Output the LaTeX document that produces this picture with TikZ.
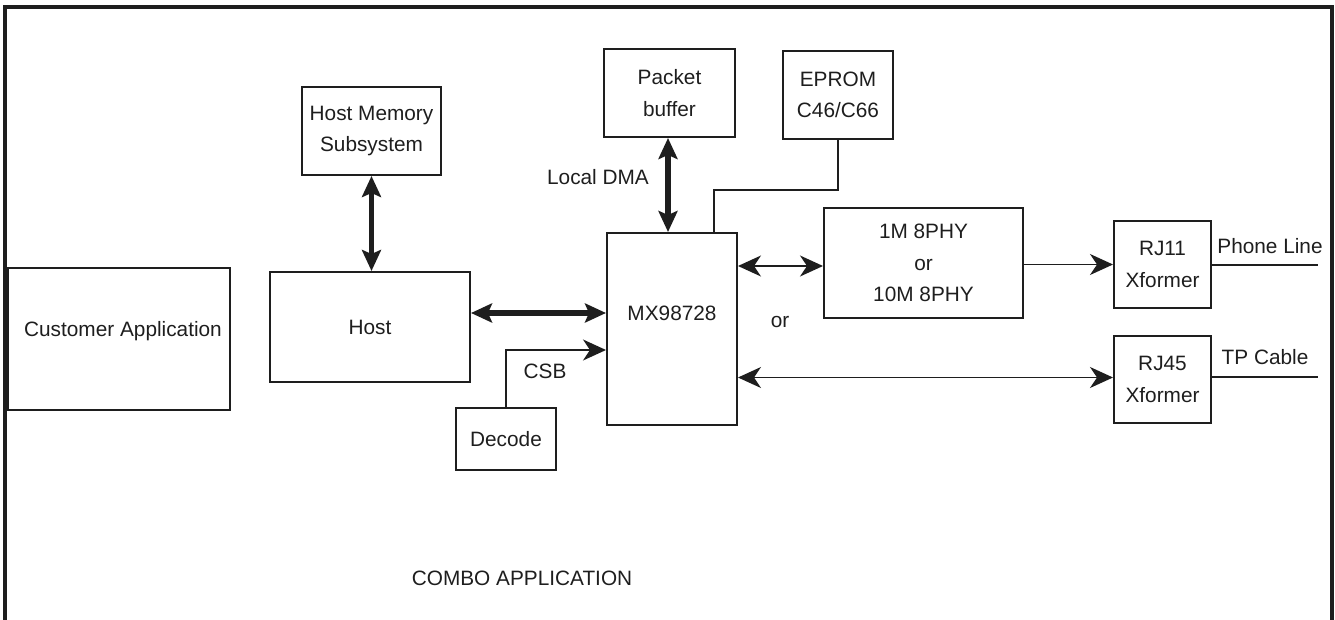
\documentclass[tikz,border=0pt]{standalone}
\usepackage{fontspec}
\setmainfont{Liberation Sans}
\usetikzlibrary{arrows.meta}
\definecolor{ink}{HTML}{1E1E1E}
\tikzset{
  blk/.style={draw=ink, line width=2pt, rectangle, inner sep=0pt, align=center,
    font=\fontsize{20.8}{31.5}\selectfont, text=ink},
  lbl/.style={font=\fontsize{20.8}{31.5}\selectfont, text=ink, inner sep=0pt},
  thin/.style={draw=ink, line width=1.5pt, >={Stealth[length=23pt,width=21pt,inset=7pt]}},
  bus/.style={draw=ink, line width=5.5pt, {Stealth[length=21pt,width=19pt,inset=4pt]}-{Stealth[length=21pt,width=19pt,inset=4pt]}}
}
\begin{document}
\begin{tikzpicture}[x=1pt,y=-1pt]
\useasboundingbox (0,0) rectangle (1335,620);
\draw[ink, line width=4pt] (5,630) -- (5,7) -- (1332,7) -- (1332,630);

\node[blk, minimum width=222, minimum height=142] (ca) at (119,339) {};
\node[lbl] (cal) at (123,331) {Customer Application};
\node[blk, minimum width=200, minimum height=110] (host) at (370,327) {Host};
\node[blk, minimum width=139, minimum height=88] (hm) at (371.5,131) {Host Memory\\Subsystem};
\node[blk, minimum width=131, minimum height=88] (pb) at (669.5,93) {Packet\\buffer};
\node[blk, minimum width=110, minimum height=88] (ep) at (838,95) {EPROM\\C46/C66};
\node[blk, minimum width=130, minimum height=192] (mx) at (672,329) {};
\node[lbl] (mxl) at (672,313) {MX98728};
\node[blk, minimum width=199, minimum height=110] (phy) at (923.5,263) {1M 8PHY\\or\\10M 8PHY};
\node[blk, minimum width=97, minimum height=87] (rj11) at (1162.5,264.5) {RJ11\\Xformer};
\node[blk, minimum width=97, minimum height=87] (rj45) at (1162.5,379.5) {RJ45\\Xformer};
\node[blk, minimum width=100, minimum height=62] (dec) at (506,439) {Decode};

\node[lbl] (dma) at (598,177) {Local DMA};
\node[lbl] (csb) at (545,371) {CSB};
\node[lbl] (or) at (780,322) {or};
\node[lbl] (combo) at (522,578) {COMBO APPLICATION};
\node[lbl] (pl) at (1270,246) {Phone Line};
\node[lbl] (tp) at (1265,357) {TP Cable};

% thick buses
\draw[bus] (hm.south) -- (hm.south |- host.north);
\draw[bus] ([xshift=-1.5]pb.south) -- ([xshift=-1.5]pb.south |- mx.north);
\draw[bus] ([yshift=14]host.east) -- ([yshift=14]host.east -| mx.west);

% thin connections
\draw[thin] (ep.south) -- ++(0,50) -| ([xshift=42]mx.north);
\draw[thin, ->] (dec.north) |- ([yshift=-21]mx.west);
\draw[thin, <->] ([yshift=-3]phy.west -| mx.east) -- ([yshift=-3]phy.west);
\draw[thin, ->] (rj11.west -| phy.east) -- (rj11.west);
\draw[thin, <->] ([yshift=2]rj45.west -| mx.east) -- ([yshift=2]rj45.west);
\coordinate (plend) at (1318,265);
\coordinate (tpend) at (1318,377);
\draw[thin] (rj11.east |- plend) -- (plend);
\draw[thin] (rj45.east |- tpend) -- (tpend);
\end{tikzpicture}
\end{document}
